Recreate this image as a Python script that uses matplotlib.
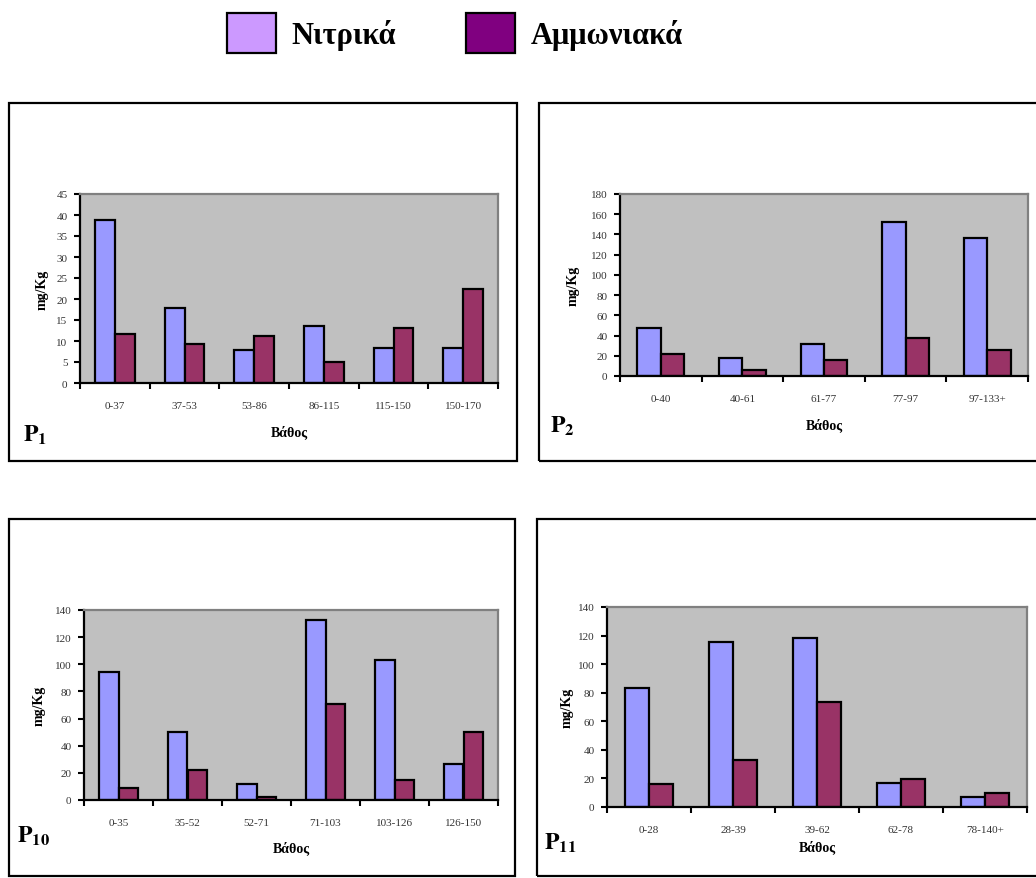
import numpy as np
import matplotlib
matplotlib.use("Agg")
import matplotlib.pyplot as plt
from matplotlib.patches import Rectangle, Patch

plt.rcParams['font.family'] = ['Liberation Serif', 'DejaVu Serif']
plt.rcParams['mathtext.fontset'] = 'stix'

W, H = 1036, 879

# data (mg/Kg)
p1_depths = ["0-37", "37-53", "53-86", "86-115", "115-150", "150-170"]
p1_nitrates = [38.8, 17.8, 7.9, 13.5, 8.3, 8.3]
p1_ammonium = [11.6, 9.2, 11.1, 4.9, 13.0, 22.5]

p2_depths = ["0-40", "40-61", "61-77", "77-97", "97-133+"]
p2_nitrates = [47.5, 17.8, 31.6, 152, 136.5]
p2_ammonium = [21.4, 5.9, 15.8, 37.5, 26]

p10_depths = ["0-35", "35-52", "52-71", "71-103", "103-126", "126-150"]
p10_nitrates = [94.2, 50, 11.6, 132.6, 103.1, 26.3]
p10_ammonium = [8.6, 21.9, 2.5, 70.6, 14.5, 50]

p11_depths = ["0-28", "28-39", "39-62", "62-78", "78-140+"]
p11_nitrates = [83, 115.3, 118.6, 17, 6.7]
p11_ammonium = [16, 32.8, 73.5, 19.5, 9.8]

NITRO_BAR = "#9999FF"
AMMON_BAR = "#993366"
NITRO_LEG = "#CC99FF"
AMMON_LEG = "#800080"

fig = plt.figure(figsize=(W / 100, H / 100), dpi=100)


def px_rect(x0, y0, x1, y1):
    return [x0 / W, 1 - y1 / H, (x1 - x0) / W, (y1 - y0) / H]


def frame(x0, y0, x1, y1):
    fig.add_artist(Rectangle((x0 / W, 1 - y1 / H), (x1 - x0) / W, (y1 - y0) / H,
                             transform=fig.transFigure, fill=False,
                             edgecolor="black", linewidth=1.6))


def panel(rect, depths, nit, amm, ymax, ystep, sub, label_xy, ylab_x, xlab_y):
    ax = fig.add_axes(px_rect(*rect))
    n = len(depths)
    x = np.arange(n)
    w = 1 / 3.5
    ax.bar(x - w / 2, nit, w, color=NITRO_BAR, edgecolor="black", linewidth=1.6)
    ax.bar(x + w / 2, amm, w, color=AMMON_BAR, edgecolor="black", linewidth=1.6)
    ax.set_facecolor("#C0C0C0")
    ax.set_xlim(-0.5, n - 0.5)
    ax.set_ylim(0, ymax)
    ax.set_yticks(np.arange(0, ymax + 1, ystep))
    ax.set_xticks(np.arange(n + 1) - 0.5)
    ax.set_xticklabels([])
    ax.set_xticks(x, minor=True)
    ax.set_xticklabels(depths, minor=True)
    ax.tick_params(axis="x", which="major", length=4, width=1.5, direction="out")
    ax.tick_params(axis="x", which="minor", length=0, pad=13, labelsize=8,
                   labelcolor="#333333")
    ax.tick_params(axis="y", length=4, width=1.5, direction="out", pad=5,
                   labelsize=8, labelcolor="#333333")
    for s in ("left", "bottom"):
        ax.spines[s].set_linewidth(1.6)
        ax.spines[s].set_color("black")
    for s in ("top", "right"):
        ax.spines[s].set_linewidth(1.6)
        ax.spines[s].set_color("#808080")
    cx = (rect[0] + rect[2]) / 2
    cy = (rect[1] + rect[3]) / 2
    fig.text(ylab_x / W, 1 - cy / H, "mg/Kg", rotation=90, ha="center", va="center",
             fontsize=10, fontweight="bold")
    fig.text(cx / W, 1 - xlab_y / H, "Βάθος", ha="center", va="center",
             fontsize=10, fontweight="bold")
    fig.text(label_xy[0] / W, 1 - label_xy[1] / H,
             r"$\mathbf{P}_{\mathbf{%s}}$" % sub, ha="left", va="baseline",
             fontsize=17)
    return ax


# panel frames
frame(9, 104, 517, 462)
frame(539, 104, 1060, 462)
frame(9, 520, 515, 877)
frame(537, 520, 1060, 877)

panel((80, 195, 498, 384), p1_depths, p1_nitrates, p1_ammonium, 45, 5,
      "1", (23, 442), 42, 432)
panel((620, 195, 1028, 377), p2_depths, p2_nitrates, p2_ammonium, 180, 20,
      "2", (550, 433), 573, 425)
panel((84, 611, 498, 801), p10_depths, p10_nitrates, p10_ammonium, 140, 20,
      "10", (17, 843), 39, 848)
panel((607, 608, 1027, 808), p11_depths, p11_nitrates, p11_ammonium, 140, 20,
      "11", (544, 850), 567, 847)

handles = [Patch(facecolor=NITRO_LEG, edgecolor="black", linewidth=1.6, label="Νιτρικά"),
           Patch(facecolor=AMMON_LEG, edgecolor="black", linewidth=1.6, label="Αμμωνιακά")]
fig.legend(handles=handles, loc="center", bbox_to_anchor=(455 / W, 1 - 34 / H),
           ncol=2, frameon=False, prop={"family": "Liberation Serif", "weight": "bold",
                                        "size": 22},
           handlelength=1.6, handleheight=1.6, handletextpad=0.5, columnspacing=2.3)

fig.savefig("out.png", dpi=100)
